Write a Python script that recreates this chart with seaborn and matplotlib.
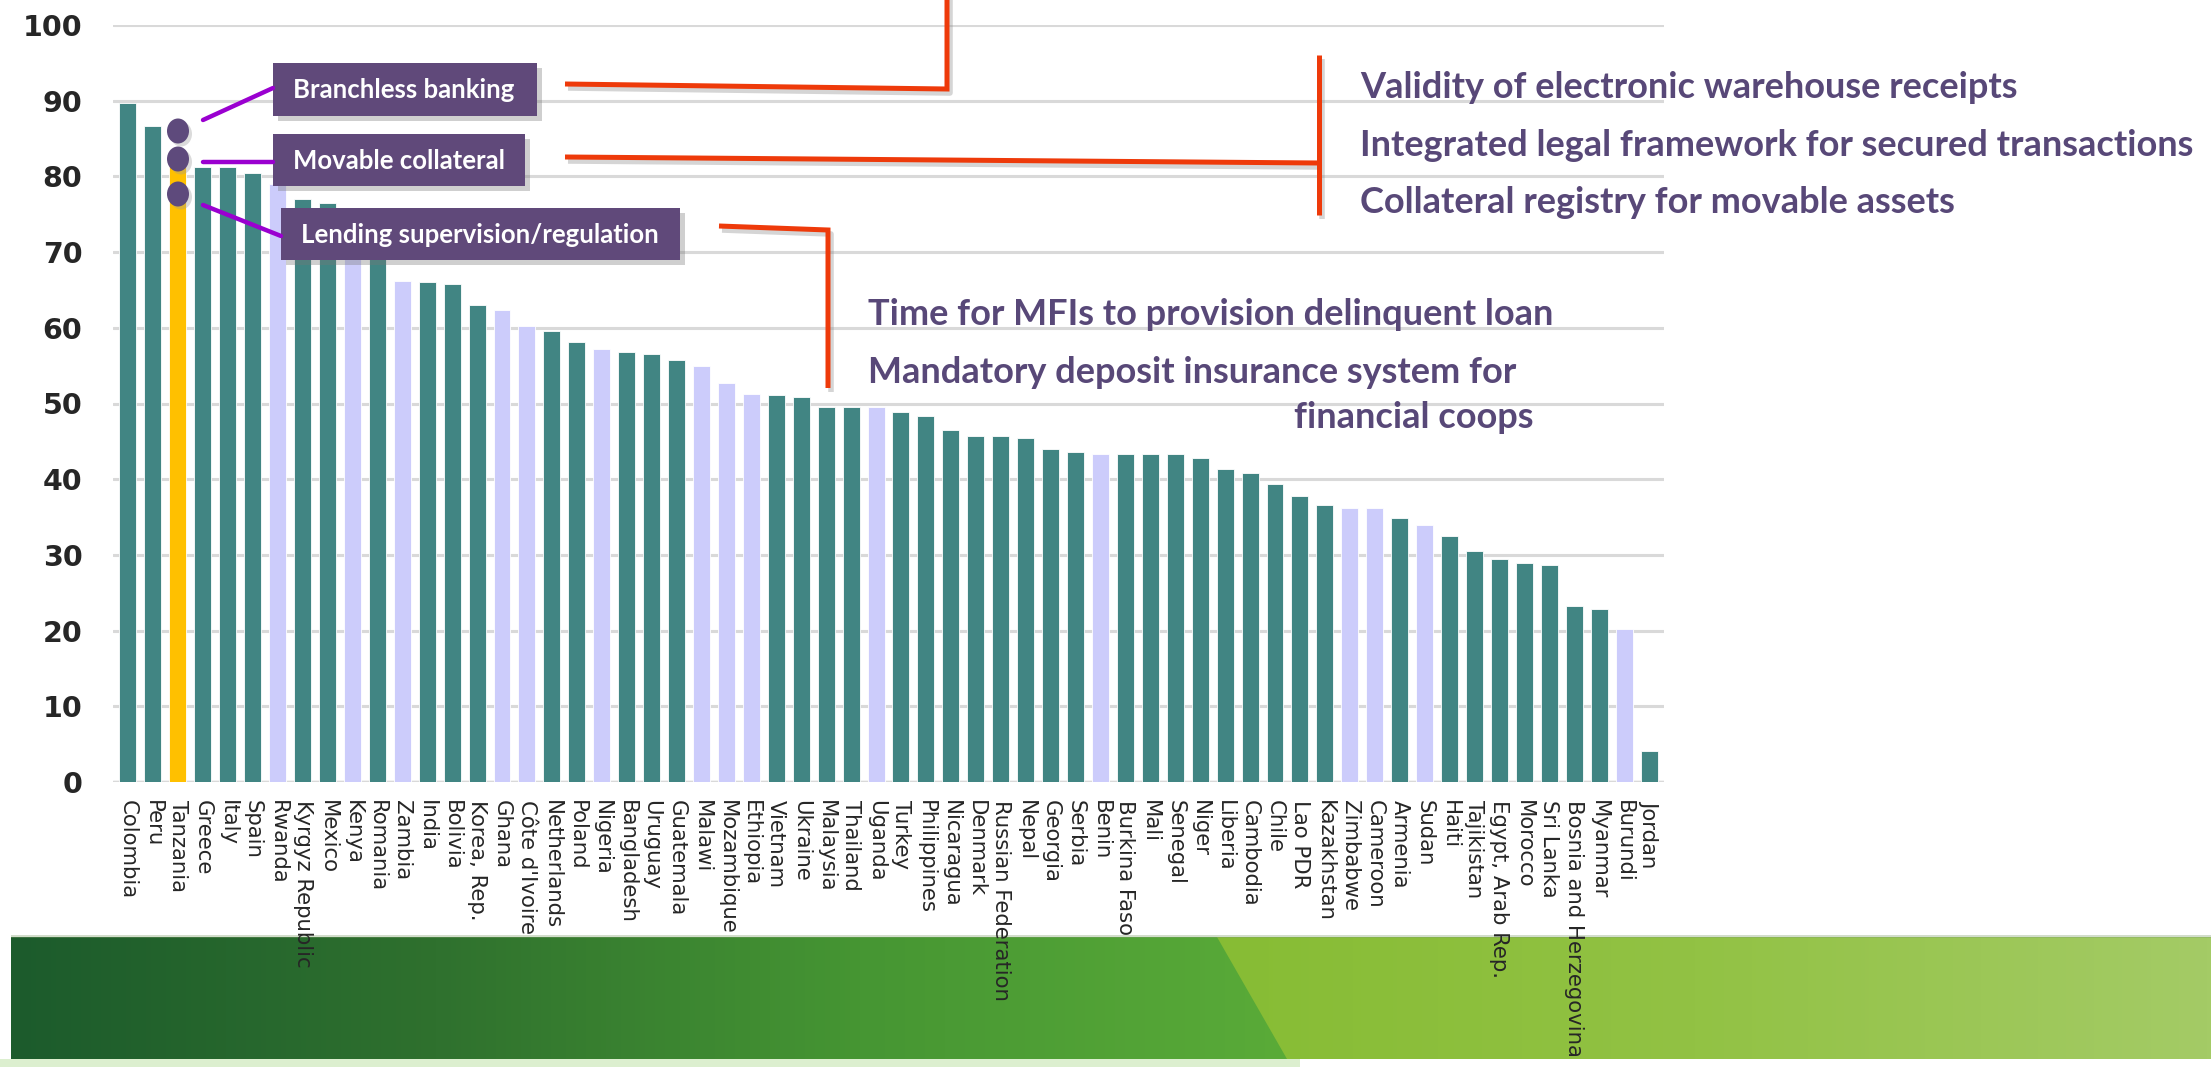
import numpy as np
import pandas as pd
import seaborn as sns
import matplotlib.pyplot as plt
from matplotlib.patches import Rectangle, Ellipse, Polygon
from matplotlib.colors import LinearSegmentedColormap

# country scores, sorted as in the slide
countries = ["Colombia", "Peru", "Tanzania", "Greece", "Italy", "Spain", "Rwanda",
             "Kyrgyz Republic", "Mexico", "Kenya", "Romania", "Zambia", "India",
             "Bolivia", "Korea, Rep.", "Ghana", "Côte d'Ivoire", "Netherlands",
             "Poland", "Nigeria", "Bangladesh", "Uruguay", "Guatemala", "Malawi",
             "Mozambique", "Ethiopia", "Vietnam", "Ukraine", "Malaysia", "Thailand",
             "Uganda", "Turkey", "Philippines", "Nicaragua", "Denmark",
             "Russian Federation", "Nepal", "Georgia", "Serbia", "Benin",
             "Burkina Faso", "Mali", "Senegal", "Niger", "Liberia", "Cambodia",
             "Chile", "Lao PDR", "Kazakhstan", "Zimbabwe", "Cameroon", "Armenia",
             "Sudan", "Haiti", "Tajikistan", "Egypt, Arab Rep.", "Morocco",
             "Sri Lanka", "Bosnia and Herzegovina", "Myanmar", "Burundi", "Jordan"]

scores = [89.7, 86.7, 83.0, 81.2, 81.2, 80.4, 79.0, 77.0, 76.5, 73.0, 70.5, 66.2,
          66.0, 65.8, 63.0, 62.3, 60.3, 59.6, 58.1, 57.2, 56.8, 56.5, 55.8, 55.0,
          52.7, 51.3, 51.1, 50.8, 49.6, 49.6, 49.5, 48.9, 48.3, 46.5, 45.7, 45.7,
          45.4, 44.0, 43.6, 43.3, 43.3, 43.3, 43.3, 42.8, 41.3, 40.8, 39.3, 37.8,
          36.6, 36.2, 36.2, 34.9, 33.9, 32.5, 30.5, 29.5, 28.9, 28.6, 23.2, 22.9,
          20.2, 4.1]

# d = dark teal, l = lavender, t = Tanzania highlight (10 per chunk)
groups = list("ddtdddlddl" "dldddllddl" "dddllldddd" "lddddddddl"
              "dddddddddl" "ldlddddddd" "ld")

tick_vals = list(range(0, 101, 10))

right_notes = ["Validity of electronic warehouse receipts",
               "Integrated legal framework for secured transactions",
               "Collateral registry for movable assets"]
mid_notes = ["Time for MFIs to provision delinquent loan",
             "Mandatory deposit insurance system for"]
box_labels = ["Branchless banking", "Movable collateral", "Lending supervision/regulation"]

df = pd.DataFrame({"country": countries, "score": scores, "group": groups})

W, H = 2211, 1067
sns.set_style("white")
plt.rcParams["font.family"] = ["Lato", "DejaVu Sans"]

fig = plt.figure(figsize=(W / 100, H / 100), dpi=100)
fig.patch.set_facecolor("white")

# background banner
bg = fig.add_axes([0, 0, 1, 1], zorder=0)
bg.add_patch(Rectangle((0, 1059), 1300, 8, color="#dcefcf", lw=0))
right_cmap = LinearSegmentedColormap.from_list("r", ["#86bc33", "#92c244", "#a4cb66"])
left_cmap = LinearSegmentedColormap.from_list("l", ["#1c5b2c", "#2f712e", "#469633", "#5aab38"])
grad = np.linspace(0, 1, 256).reshape(1, -1)
im_r = bg.imshow(grad, cmap=right_cmap, extent=(1180, W, 1059, 937), aspect="auto")
im_l = bg.imshow(grad, cmap=left_cmap, extent=(11, 1290, 1059, 937), aspect="auto")
clip_l = Polygon([(11, 937), (1217, 937), (1287, 1059), (11, 1059)], closed=True,
                 transform=bg.transData, facecolor="none", edgecolor="none")
bg.add_patch(clip_l)
im_l.set_clip_path(clip_l)
bg.add_patch(Rectangle((11, 935), W, 3, color="#7f9f6a", alpha=0.35, lw=0))
bg.set_xlim(0, W)
bg.set_ylim(H, 0)
bg.axis("off")

# main bar chart
ax = fig.add_axes([113 / W, 1 - 782 / H, (1664 - 113) / W, (782 - 25) / H], zorder=1)
ax.patch.set_alpha(0)
sns.barplot(data=df, x="country", y="score", hue="group", dodge=False, width=0.68,
            palette={"d": "#418583", "l": "#ccccfb", "t": "#ffc000"},
            legend=False, ax=ax, edgecolor="white", linewidth=0.6, saturation=1)
ax.set_xlim(-0.6, len(countries) - 0.4)
ax.set_ylim(0, 100)
ax.set_yticks(tick_vals)
ax.yaxis.grid(True, color="#d9d9d9", lw=2.2)
ax.set_axisbelow(True)
for s in ax.spines.values():
    s.set_visible(False)
ax.axhline(0, color="#d0d0d0", lw=2.5, zorder=0)
ax.set_xlabel("")
ax.set_ylabel("")
ax.tick_params(axis="y", length=0, pad=22, labelsize=20.5)
ax.tick_params(axis="x", length=0, pad=13)
for lab in ax.get_yticklabels():
    lab.set_fontweight("bold")
    lab.set_family(["DejaVu Sans"])
ax.set_xticks(range(len(countries)))
ax.set_xticklabels(countries, rotation=-90, fontsize=15.3, family=["DejaVu Sans"],
                   ha="center", va="top")

# annotation layer in pixel coordinates
ov = fig.add_axes([0, 0, 1, 1], zorder=5)
ov.set_xlim(0, W)
ov.set_ylim(H, 0)
ov.axis("off")
ov.patch.set_alpha(0)

orange = "#ee3a0a"
purple_box = "#60497a"
violet = "#9a00d0"
text_purple = "#584878"


def shadow_line(xs, ys):
    ov.plot([x + 3 for x in xs], [y + 4 for y in ys], color="#888888", lw=4, alpha=0.35,
            solid_capstyle="butt")
    ov.plot(xs, ys, color=orange, lw=3.6, solid_capstyle="butt", solid_joinstyle="miter")


shadow_line([565, 947, 947], [84, 89, -5])
shadow_line([565, 1319], [157, 163])
shadow_line([1319, 1319], [55, 215])
shadow_line([719, 828, 828], [226, 230, 388])

# violet connectors
ov.plot([203, 273], [120, 88], color=violet, lw=3.2)
ov.plot([203, 273], [162, 162], color=violet, lw=3.2)
ov.plot([203, 281], [205, 236], color=violet, lw=3.2)

# dots on Tanzania
for cy in [131, 159, 194]:
    ov.add_patch(Ellipse((181, cy + 3), 22, 25, color="#999999", alpha=0.35, lw=0))
    ov.add_patch(Ellipse((178, cy), 22, 25, color="#5e4a7c", lw=0))

# boxes
boxes = [(273, 63, 264, 53), (273, 134, 252, 52), (281, 208, 399, 52)]
for (x0, y0, w, h), lab in zip(boxes, box_labels):
    ov.add_patch(Rectangle((x0 + 5, y0 + 5), w, h, color="#777777", alpha=0.35, lw=0))
    ov.add_patch(Rectangle((x0, y0), w, h, color=purple_box, lw=0))
    ov.text(x0 + 20, y0 + h / 2 + 1, lab, color="white", fontsize=18.5,
            fontweight="bold", ha="left", va="center")

for i, t in enumerate(right_notes):
    ov.text(1360, 98 + i * 57.5, t, color=text_purple, fontsize=26, fontweight="bold",
            ha="left", va="baseline")
ov.text(868, 325, mid_notes[0], color=text_purple, fontsize=26, fontweight="bold",
        ha="left", va="baseline")
ov.text(868, 383, mid_notes[1], color=text_purple, fontsize=26, fontweight="bold",
        ha="left", va="baseline")
ov.text(1534, 428, "financial coops", color=text_purple, fontsize=26, fontweight="bold",
        ha="right", va="baseline")

fig.savefig("out.png", dpi=100)
